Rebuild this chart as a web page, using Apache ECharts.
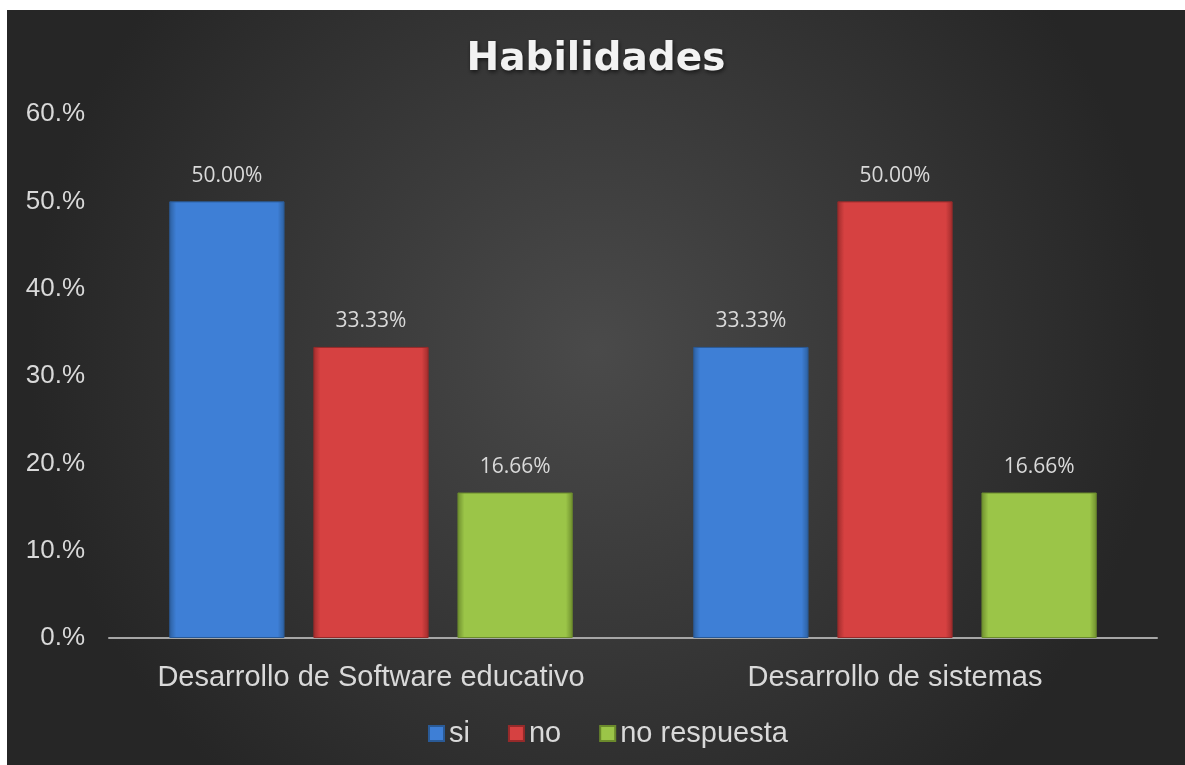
<!DOCTYPE html>
<html>
<head>
<meta charset="utf-8">
<script src="https://cdn.jsdelivr.net/npm/echarts@6/dist/echarts.min.js"></script>
<style>
  html, body { margin: 0; padding: 0; background: #fff; }
  #habilidadesChart {
    position: absolute;
    left: 7px;
    top: 10px;
    width: 1178px;
    height: 755px;
  }
</style>
</head>
<body>
<div id="habilidadesChart"></div>
<script>
// categorias y valores (%)
var categorias = ["Desarrollo de Software educativo", "Desarrollo de sistemas"];
var valoresSi = [50.0, 33.33];
var valoresNo = [33.33, 50.0];
var valoresNoResp = [16.66, 16.66];
var seriesNombres = ["si", "no", "no respuesta"];

function barColor(mid, dark) {
  return new echarts.graphic.LinearGradient(0, 0, 1, 0, [
    { offset: 0, color: dark },
    { offset: 0.06, color: mid },
    { offset: 0.94, color: mid },
    { offset: 1, color: dark }
  ]);
}

var chart = echarts.init(document.getElementById("habilidadesChart"));

var labelCfg = {
  show: true,
  position: "top",
  distance: 15,
  color: "#d9d9d9",
  fontSize: 21,
  fontFamily: "Open Sans",
  formatter: function (p) {
    return p.value.toFixed(2) + "%";
  }
};

var option = {
  backgroundColor: new echarts.graphic.RadialGradient(0.5, 0.45, 0.75, [
    { offset: 0, color: "#4a4a4a" },
    { offset: 1, color: "#262626" }
  ]),
  title: {
    text: "Habilidades",
    left: "center",
    top: 25,
    textStyle: {
      color: "#f2f2f2",
      fontSize: 39,
      fontWeight: "bold",
      fontFamily: "DejaVu Sans",
      textShadowColor: "rgba(0,0,0,0.6)",
      textShadowBlur: 4,
      textShadowOffsetX: 1,
      textShadowOffsetY: 2
    }
  },
  legend: {
    bottom: 12,
    left: 416,
    itemWidth: 15,
    itemHeight: 15,
    itemGap: 38,
    icon: "rect",
    textStyle: {
      color: "#d9d9d9",
      fontSize: 29,
      fontFamily: "Liberation Sans"
    }
  },
  grid: {
    left: 102,
    right: 28,
    top: 104,
    bottom: 127,
    containLabel: false
  },
  xAxis: {
    type: "category",
    data: categorias,
    axisLine: { lineStyle: { color: "#a6a6a6", width: 2 } },
    axisTick: { show: false },
    axisLabel: {
      color: "#d9d9d9",
      fontSize: 29,
      fontFamily: "Liberation Sans",
      interval: 0,
      margin: 25
    }
  },
  yAxis: {
    type: "value",
    min: 0,
    max: 60,
    interval: 10,
    axisLine: { show: false },
    axisTick: { show: false },
    splitLine: { show: false },
    axisLabel: {
      color: "#d9d9d9",
      fontSize: 26,
      fontFamily: "Liberation Sans",
      margin: 24,
      formatter: function (v) {
        return v + ".%";
      }
    }
  },
  series: [
    {
      name: seriesNombres[0],
      type: "bar",
      data: valoresSi,
      barWidth: "22%",
      barGap: "25%",
      itemStyle: {
        color: barColor("#3e7fd6", "#2c5f9e"),
        borderColor: "#2a5a96",
        borderWidth: 1
      },
      label: labelCfg
    },
    {
      name: seriesNombres[1],
      type: "bar",
      data: valoresNo,
      barWidth: "22%",
      barGap: "25%",
      itemStyle: {
        color: barColor("#d64141", "#9e2c2c"),
        borderColor: "#962a2a",
        borderWidth: 1
      },
      label: labelCfg
    },
    {
      name: seriesNombres[2],
      type: "bar",
      data: valoresNoResp,
      barWidth: "22%",
      barGap: "25%",
      itemStyle: {
        color: barColor("#9bc548", "#6e8e2e"),
        borderColor: "#6b8a2c",
        borderWidth: 1
      },
      label: labelCfg
    }
  ]
};

// leyenda con el mismo color plano
option.legend.data = seriesNombres.map(function (n, i) {
  var c = ["#3e7fd6", "#d64141", "#9bc548"][i];
  return { name: n, itemStyle: { color: c } };
});

chart.setOption(option);
</script>
</body>
</html>
